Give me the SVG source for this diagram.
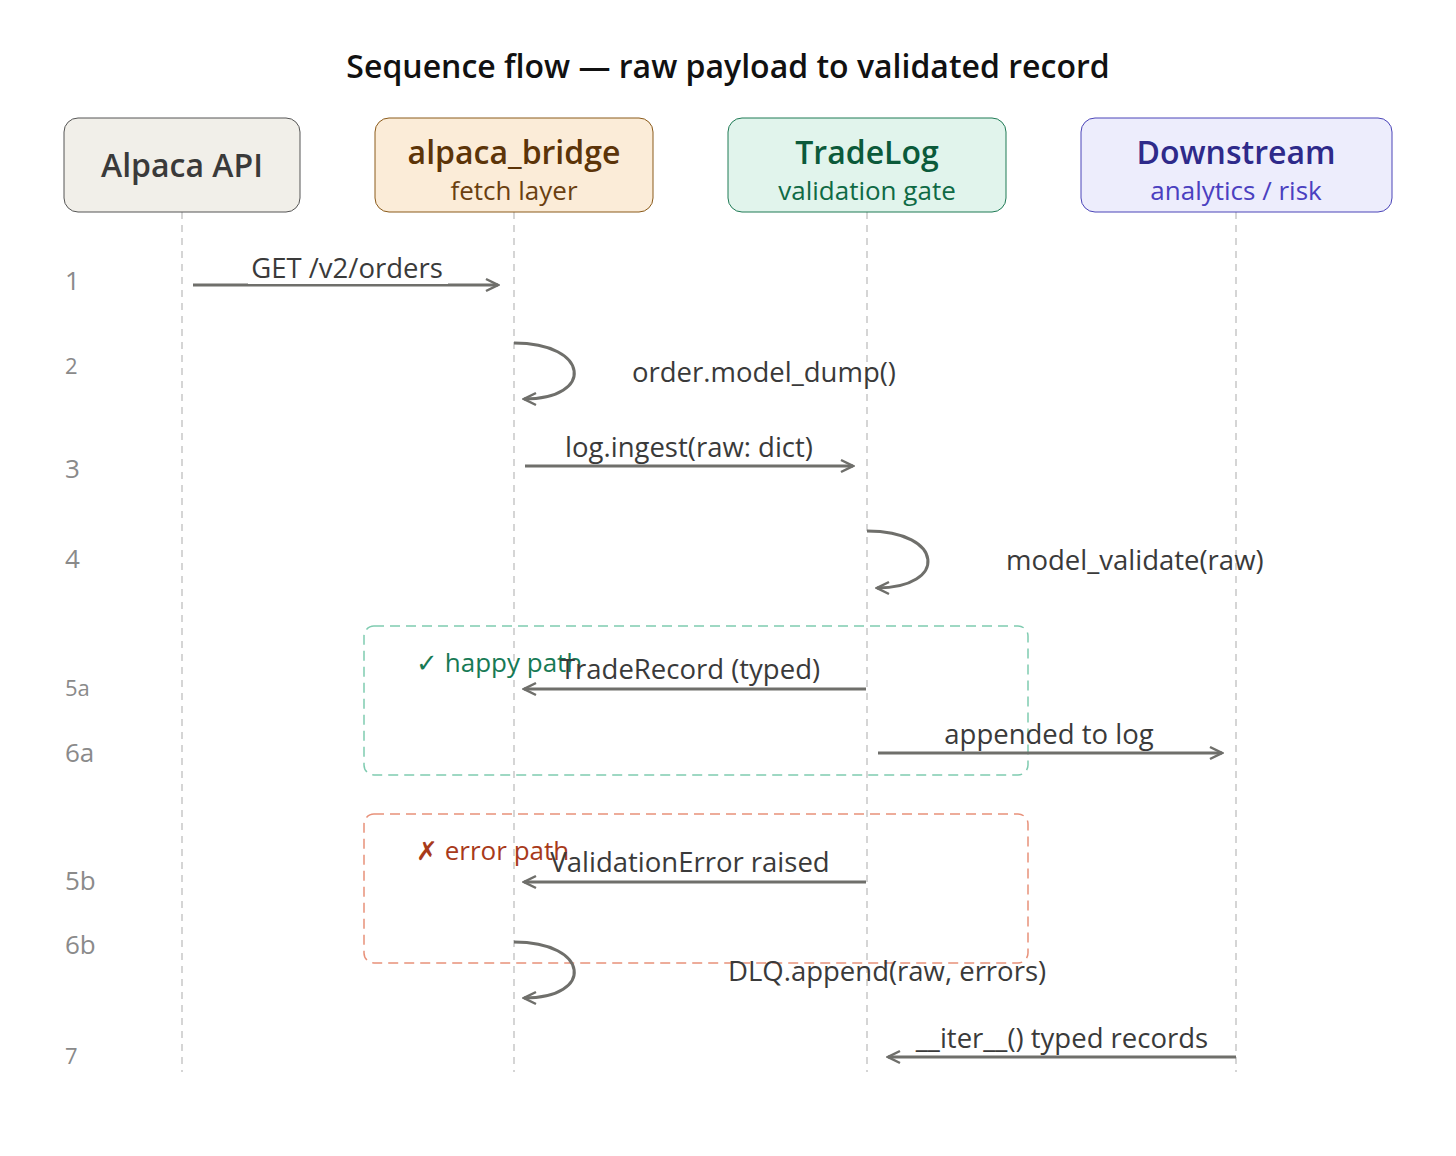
<svg xmlns="http://www.w3.org/2000/svg" width="1456" height="1156" viewBox="0 0 1456 1156">
<style>
text{font-family:"Open Sans","Noto Sans","Liberation Sans",sans-serif}
.life{stroke:#c8c8c8;stroke-width:1.5;stroke-dasharray:7 6;fill:none}
.msg{stroke:#6f6f6b;stroke-width:3;fill:none}
.lbl{font-size:27.5px;fill:#3a3a3a}
.num{font-size:22px;fill:#8a8a8a}
.t1{font-size:32px;font-weight:600}
.t2{font-size:26px}
</style>
<defs>
<marker id="ah" viewBox="0 0 16 16" refX="14" refY="8" markerWidth="16" markerHeight="16" markerUnits="userSpaceOnUse" orient="auto">
<path d="M2,2 L14,8 L2,14" fill="none" stroke="#6f6f6b" stroke-width="2.5"/>
</marker>
</defs>
<rect width="1456" height="1156" fill="#fff"/>
<text x="728" y="78" text-anchor="middle" font-size="32" font-weight="600" fill="#111">Sequence flow — raw payload to validated record</text>
<g id="lifelines">
<line class="life" x1="182" y1="212" x2="182" y2="1072"/>
<line class="life" x1="514" y1="212" x2="514" y2="1072"/>
<line class="life" x1="867" y1="212" x2="867" y2="1072"/>
<line class="life" x1="1236" y1="212" x2="1236" y2="1072"/>
</g>
<g id="frames">
<rect x="364" y="626" width="664" height="149" rx="10" fill="none" stroke="#7fcbb0" stroke-width="1.5" stroke-dasharray="10 6"/>
<text x="416" y="672" font-size="26" fill="#177a55">✓ happy path</text>
<rect x="364" y="814" width="664" height="149" rx="10" fill="none" stroke="#e8917a" stroke-width="1.5" stroke-dasharray="10 6"/>
<text x="416" y="860" font-size="26" fill="#a83a1a">✗ error path</text>
</g>
<g id="n-alpaca"><rect x="64" y="118" width="236" height="94" rx="14" fill="#f1efe9" stroke="#555"/><text x="182" y="177" text-anchor="middle" class="t1" fill="#3a3a3a">Alpaca API</text></g>
<g id="n-bridge"><rect x="375" y="118" width="278" height="94" rx="14" fill="#fbecd8" stroke="#8a5a1a"/><text x="514" y="164" text-anchor="middle" class="t1" fill="#5c3408">alpaca_bridge</text><text x="514" y="200" text-anchor="middle" class="t2" fill="#6a3f10">fetch layer</text></g>
<g id="n-tradelog"><rect x="728" y="118" width="278" height="94" rx="14" fill="#e1f4ec" stroke="#1f7a55"/><text x="867" y="164" text-anchor="middle" class="t1" fill="#0b5a3a">TradeLog</text><text x="867" y="200" text-anchor="middle" class="t2" fill="#0f6a45">validation gate</text></g>
<g id="n-down"><rect x="1081" y="118" width="311" height="94" rx="14" fill="#ededfc" stroke="#4a44b8"/><text x="1236" y="164" text-anchor="middle" class="t1" fill="#2e2a8a">Downstream</text><text x="1236" y="200" text-anchor="middle" class="t2" fill="#4a40c0">analytics / risk</text></g>
<g id="numbers">
<text x="65" y="290" class="num" style="font-size:26px">1</text>
<text x="65" y="374" class="num">2</text>
<text x="65" y="478" class="num" style="font-size:26px">3</text>
<text x="65" y="568" class="num" style="font-size:26px">4</text>
<text x="65" y="696" class="num">5a</text>
<text x="65" y="762" class="num" style="font-size:26px">6a</text>
<text x="65" y="890" class="num" style="font-size:26px">5b</text>
<text x="65" y="954" class="num" style="font-size:26px">6b</text>
<text x="65" y="1064" class="num">7</text>
</g>
<g id="connectors">
<line class="msg" x1="193" y1="285" x2="498" y2="285" marker-end="url(#ah)"/>
<rect x="248" y="256" width="200" height="28" fill="#fff"/>
<text x="347" y="278" text-anchor="middle" class="lbl">GET /v2/orders</text>
<path class="msg" d="M514,343 C590,343 595,399 524,399" marker-end="url(#ah)"/>
<text x="632" y="382" class="lbl">order.model_dump()</text>
<line class="msg" x1="525" y1="466" x2="853" y2="466" marker-end="url(#ah)"/>
<text x="689" y="457" text-anchor="middle" class="lbl">log.ingest(raw: dict)</text>
<path class="msg" d="M867,531 C945,531 948,588 877,588" marker-end="url(#ah)"/>
<text x="1006" y="570" class="lbl">model_validate(raw)</text>
<line class="msg" x1="866" y1="689" x2="524" y2="689" marker-end="url(#ah)"/>
<text x="690" y="679" text-anchor="middle" class="lbl">TradeRecord (typed)</text>
<line class="msg" x1="878" y1="753" x2="1222" y2="753" marker-end="url(#ah)"/>
<text x="1049" y="744" text-anchor="middle" class="lbl">appended to log</text>
<line class="msg" x1="866" y1="882" x2="524" y2="882" marker-end="url(#ah)"/>
<text x="690" y="872" text-anchor="middle" class="lbl">ValidationError raised</text>
<path class="msg" d="M514,942 C590,942 595,998 524,998" marker-end="url(#ah)"/>
<text x="728" y="981" class="lbl">DLQ.append(raw, errors)</text>
<line class="msg" x1="1236" y1="1057" x2="888" y2="1057" marker-end="url(#ah)"/>
<text x="1062" y="1048" text-anchor="middle" class="lbl">__iter__() typed records</text>
</g>
</svg>
